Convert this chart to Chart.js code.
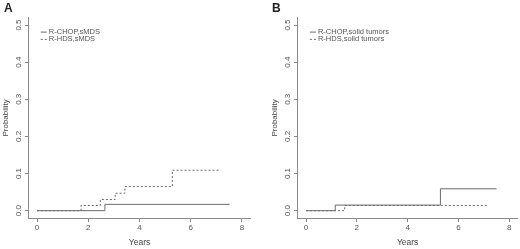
<!DOCTYPE html>
<html>
<head>
<meta charset="utf-8">
<script src="https://cdn.jsdelivr.net/npm/chart.js@4"></script>
<style>
  body { margin: 0; background: #fff; }
  .wrap { display: flex; width: 520px; height: 249px; }
  .panel { position: relative; width: 260px; height: 249px; }
  .letter { position: absolute; top: 1px; font: bold 12px "Liberation Sans", Arial, sans-serif; color: #222; }
</style>
</head>
<body>
<div class="wrap">
  <div class="panel"><span class="letter" style="left:4px">A</span><canvas id="chartA" width="260" height="249"></canvas></div>
  <div class="panel"><span class="letter" style="left:12px">B</span><canvas id="chartB" width="260" height="249"></canvas></div>
</div>
<script>
// tick labels
const xTicks = [0, 2, 4, 6, 8]
const yTicks = [0, 0.1, 0.2, 0.3, 0.4, 0.5]

// panel A: sMDS cumulative incidence (step points)
const aChopYears = [0, 2.65, 7.52]
const aChopProb = [0, 0.017, 0.017]
const aHdsYears = [0, 1.72, 2.47, 3.05, 3.43, 5.28, 7.17]
const aHdsProb = [0, 0.014, 0.030, 0.047, 0.065, 0.109, 0.109]

// panel B: solid tumors
const bChopYears = [0, 1.15, 5.29, 7.5]
const bChopProb = [0, 0.015, 0.059, 0.059]
const bHdsYears = [0, 1.52, 7.11]
const bHdsProb = [0, 0.014, 0.014]

const lineColor = '#6a6a6a'
const axisColor = '#8a8a8a'
const textColor = '#555'
const fontFamily = '"Liberation Sans", Arial, sans-serif'

const toPoints = (xs, ys) => xs.map((x, i) => ({ x, y: ys[i] }))

// y labels rotated like R's default axis labels
const yLabelPlugin = {
  id: 'yLabels',
  afterDraw(chart) {
    const s = chart.scales.y
    const ctx = chart.ctx
    ctx.save()
    ctx.fillStyle = textColor
    ctx.font = '8px ' + fontFamily
    ctx.textAlign = 'center'
    ctx.textBaseline = 'middle'
    s.ticks.forEach(t => {
      const y = s.getPixelForValue(t.value)
      ctx.save()
      ctx.translate(s.right - 10, y)
      ctx.rotate(-Math.PI / 2)
      ctx.fillText(t.value.toFixed(1), 0, 0)
      ctx.restore()
    })
    ctx.restore()
  }
}

// R style legend inside the plot, top left
const legendPlugin = {
  id: 'rLegend',
  afterDraw(chart) {
    const ctx = chart.ctx
    const area = chart.chartArea
    ctx.save()
    ctx.font = '7.5px ' + fontFamily
    ctx.textBaseline = 'middle'
    chart.data.datasets.forEach((ds, i) => {
      const y = area.top + 14.5 + i * 7.3
      ctx.strokeStyle = lineColor
      ctx.lineWidth = 1
      ctx.setLineDash(ds.borderDash || [])
      ctx.beginPath()
      ctx.moveTo(area.left + 12, y)
      ctx.lineTo(area.left + 18, y)
      ctx.stroke()
      ctx.setLineDash([])
      ctx.fillStyle = textColor
      ctx.fillText(ds.label, area.left + 20, y)
    })
    ctx.restore()
  }
}

function makeChart(id, datasets, plotLeft, plotRight, titleShift) {
  return new Chart(document.getElementById(id), {
    type: 'line',
    data: { datasets },
    plugins: [yLabelPlugin, legendPlugin],
    options: {
      responsive: false,
      animation: false,
      layout: { padding: { left: 0, top: 17.6, right: 260 - plotRight, bottom: 1 } },
      elements: {
        point: { radius: 0 },
        line: { borderWidth: 1, stepped: 'before', borderColor: lineColor }
      },
      plugins: {
        legend: { display: false },
        tooltip: { enabled: false }
      },
      scales: {
        x: {
          type: 'linear',
          min: -0.32,
          max: 8.32,
          afterBuildTicks: s => { s.ticks = xTicks.map(v => ({ value: v })) },
          afterFit: s => { s.height = 249 - 218.1 - 1 },
          grid: { drawOnChartArea: false, tickLength: 4, color: axisColor },
          border: { color: axisColor, width: 1 },
          ticks: { color: textColor, font: { size: 8, family: fontFamily }, padding: 1, maxRotation: 0 },
          title: { display: true, text: 'Years', color: '#444', font: { size: 8.5, family: fontFamily }, padding: 0 }
        },
        y: {
          type: 'linear',
          min: -0.02,
          max: 0.52,
          afterBuildTicks: s => { s.ticks = yTicks.map(v => ({ value: v })) },
          afterFit: s => { s.width = plotLeft },
          grid: { drawOnChartArea: false, tickLength: 4, color: axisColor },
          border: { color: axisColor, width: 1 },
          ticks: { display: false },
          title: { display: true, text: 'Probability', color: '#444', font: { size: 8, family: fontFamily }, padding: { top: titleShift, bottom: 0 } }
        }
      }
    }
  })
}

makeChart('chartA', [
  { label: 'R-CHOP,sMDS', data: toPoints(aChopYears, aChopProb) },
  { label: 'R-HDS,sMDS', data: toPoints(aHdsYears, aHdsProb), borderDash: [2, 2] }
], 28.8, 250.2, 0.5)

makeChart('chartB', [
  { label: 'R-CHOP,solid tumors', data: toPoints(bChopYears, bChopProb) },
  { label: 'R-HDS,solid tumors', data: toPoints(bHdsYears, bHdsProb), borderDash: [2, 2] }
], 37.9, 257.4, 9.5)
</script>
</body>
</html>
